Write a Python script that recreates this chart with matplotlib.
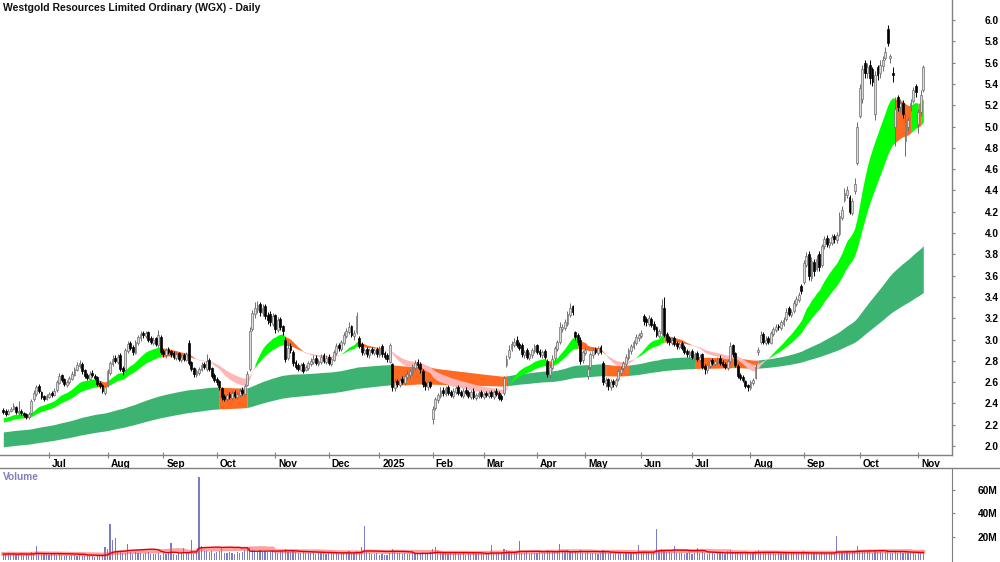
import numpy as np
import pandas as pd
import matplotlib
matplotlib.use('Agg')
import matplotlib.pyplot as plt
from matplotlib.transforms import ScaledTranslation
from matplotlib.lines import Line2D

plt.rcParams['font.family'] = ['Liberation Sans', 'DejaVu Sans']
plt.rcParams['font.weight'] = 'bold'

# ASX trading calendar for the window shown
asx_holidays = ['2024-06-10', '2024-12-25', '2024-12-26', '2025-01-01', '2025-01-27',
                '2025-04-18', '2025-04-21', '2025-04-25', '2025-06-09']
start_date = '2024-06-04'

# daily prices (AUD), 10 bars per row
opens = [
    2.34, 2.33, 2.30, 2.33, 2.35, 2.37, 2.31, 2.33, 2.31, 2.30,
    2.27, 2.31, 2.44, 2.49, 2.56, 2.51, 2.47, 2.44, 2.46, 2.50,
    2.48, 2.53, 2.59, 2.67, 2.63, 2.57, 2.60, 2.63, 2.67, 2.71,
    2.75, 2.77, 2.71, 2.67, 2.63, 2.69, 2.66, 2.65, 2.59, 2.57,
    2.50, 2.56, 2.69, 2.77, 2.83, 2.79, 2.85, 2.73, 2.71, 2.89,
    2.97, 2.93, 2.87, 2.97, 3.01, 3.06, 3.03, 3.07, 3.01, 2.97,
    3.01, 2.95, 3.02, 2.89, 2.85, 2.91, 2.89, 2.87, 2.83, 2.87,
    2.81, 2.85, 2.81, 2.97, 2.79, 2.73, 2.67, 2.69, 2.71, 2.77,
    2.72, 2.81, 2.73, 2.67, 2.63, 2.61, 2.54, 2.47, 2.44, 2.49,
    2.45, 2.51, 2.46, 2.48, 2.53, 2.49, 2.57, 2.72, 3.10, 3.24,
    3.28, 3.33, 3.25, 3.31, 3.23, 3.24, 3.15, 3.23, 3.09, 3.19,
    3.13, 3.00, 2.83, 2.94, 2.88, 2.79, 2.76, 2.71, 2.77, 2.71,
    2.73, 2.77, 2.79, 2.83, 2.77, 2.79, 2.85, 2.79, 2.84, 2.77,
    2.81, 2.87, 2.95, 2.91, 2.97, 3.03, 3.07, 3.13, 3.03, 3.07,
    3.01, 2.96, 2.87, 2.91, 2.85, 2.91, 2.87, 2.91, 2.85, 2.94,
    2.87, 2.85, 2.79, 2.77, 2.54, 2.61, 2.57, 2.63, 2.59, 2.65,
    2.67, 2.69, 2.73, 2.79, 2.77, 2.70, 2.59, 2.55, 2.60, 2.25,
    2.36, 2.43, 2.47, 2.53, 2.49, 2.55, 2.51, 2.47, 2.51, 2.55,
    2.51, 2.47, 2.53, 2.51, 2.46, 2.52, 2.45, 2.47, 2.51, 2.46,
    2.50, 2.47, 2.51, 2.46, 2.52, 2.50, 2.47, 2.50, 2.76, 2.84,
    2.91, 2.95, 3.00, 2.96, 2.95, 2.85, 2.90, 2.83, 2.85, 2.89,
    2.95, 2.89, 2.85, 2.89, 2.80, 2.67, 2.73, 2.83, 2.91, 2.98,
    3.10, 3.11, 3.15, 3.23, 3.31, 3.07, 3.04, 3.00, 2.81, 2.87,
    2.66, 2.74, 2.85, 2.91, 2.87, 2.93, 2.78, 2.59, 2.63, 2.55,
    2.61, 2.57, 2.63, 2.69, 2.73, 2.77, 2.83, 2.89, 2.93, 2.97,
    3.01, 3.03, 3.22, 3.19, 3.15, 3.19, 3.15, 3.12, 3.03, 3.06,
    3.30, 3.05, 3.01, 2.97, 3.01, 2.97, 2.93, 2.97, 2.93, 2.89,
    2.85, 2.89, 2.83, 2.87, 2.81, 2.86, 2.75, 2.71, 2.75, 2.81,
    2.77, 2.79, 2.83, 2.79, 2.77, 2.73, 2.80, 2.95, 2.87, 2.75,
    2.67, 2.65, 2.61, 2.57, 2.54, 2.59, 2.64, 2.88, 2.98, 3.05,
    2.97, 3.01, 2.97, 3.05, 3.09, 3.13, 3.11, 3.15, 3.19, 3.30,
    3.23, 3.27, 3.33, 3.37, 3.50, 3.54, 3.70, 3.80, 3.58, 3.73,
    3.66, 3.80, 3.70, 3.88, 3.95, 3.89, 3.91, 3.97, 3.93, 3.99,
    4.14, 4.31, 4.36, 4.34, 4.19, 4.39, 4.66, 5.10, 5.26, 5.60,
    5.50, 5.58, 5.54, 5.12, 5.56, 5.50, 5.57, 5.64, 5.92, 5.64,
    5.50, 5.00, 5.28, 5.18, 5.22, 4.86, 5.00, 5.18, 5.24, 5.38,
    5.02, 5.14, 5.34,
]
highs = [
    2.36, 2.35, 2.35, 2.37, 2.40, 2.38, 2.42, 2.35, 2.32, 2.31,
    2.32, 2.44, 2.53, 2.57, 2.58, 2.52, 2.48, 2.49, 2.51, 2.52,
    2.54, 2.62, 2.69, 2.68, 2.64, 2.62, 2.66, 2.70, 2.74, 2.79,
    2.81, 2.79, 2.72, 2.69, 2.70, 2.71, 2.68, 2.66, 2.61, 2.58,
    2.57, 2.72, 2.80, 2.85, 2.85, 2.86, 2.87, 2.75, 2.92, 2.99,
    2.99, 2.95, 3.00, 3.04, 3.08, 3.08, 3.08, 3.08, 3.03, 3.02,
    3.02, 3.09, 3.04, 2.91, 2.92, 2.93, 2.90, 2.89, 2.88, 2.88,
    2.86, 2.87, 2.88, 3.00, 2.80, 2.74, 2.72, 2.74, 2.79, 2.79,
    2.86, 2.83, 2.74, 2.69, 2.65, 2.62, 2.55, 2.49, 2.50, 2.51,
    2.52, 2.53, 2.51, 2.54, 2.55, 2.58, 2.70, 3.12, 3.28, 3.35,
    3.36, 3.35, 3.33, 3.33, 3.26, 3.27, 3.25, 3.24, 3.21, 3.21,
    3.14, 3.02, 2.98, 2.97, 2.90, 2.81, 2.78, 2.78, 2.79, 2.76,
    2.80, 2.83, 2.85, 2.85, 2.82, 2.86, 2.87, 2.85, 2.86, 2.84,
    2.90, 2.97, 2.97, 3.00, 3.07, 3.11, 3.16, 3.14, 3.09, 3.26,
    3.03, 2.98, 2.92, 2.93, 2.92, 2.93, 2.92, 2.93, 2.94, 2.96,
    2.89, 2.87, 2.97, 2.78, 2.63, 2.63, 2.64, 2.66, 2.68, 2.71,
    2.72, 2.77, 2.81, 2.82, 2.79, 2.72, 2.61, 2.62, 2.61, 2.38,
    2.46, 2.50, 2.55, 2.55, 2.56, 2.57, 2.53, 2.54, 2.56, 2.57,
    2.53, 2.54, 2.55, 2.53, 2.53, 2.54, 2.50, 2.52, 2.53, 2.51,
    2.52, 2.52, 2.53, 2.53, 2.54, 2.52, 2.49, 2.66, 2.85, 2.95,
    2.99, 3.01, 3.03, 2.98, 2.97, 2.90, 2.92, 2.88, 2.92, 2.96,
    2.96, 2.91, 2.90, 2.91, 2.82, 2.77, 2.85, 2.94, 3.00, 3.16,
    3.15, 3.19, 3.27, 3.34, 3.32, 3.08, 3.06, 3.02, 2.90, 2.93,
    2.75, 2.88, 2.93, 2.93, 2.94, 2.95, 2.80, 2.65, 2.64, 2.63,
    2.63, 2.64, 2.72, 2.75, 2.80, 2.86, 2.92, 2.96, 3.00, 3.05,
    3.06, 3.09, 3.24, 3.21, 3.23, 3.21, 3.17, 3.13, 3.10, 3.38,
    3.40, 3.07, 3.03, 3.02, 3.03, 2.99, 2.98, 2.99, 2.95, 2.91,
    2.90, 2.91, 2.88, 2.89, 2.86, 2.87, 2.77, 2.78, 2.82, 2.83,
    2.82, 2.84, 2.85, 2.81, 2.79, 2.82, 2.98, 2.96, 2.88, 2.77,
    2.69, 2.67, 2.62, 2.58, 2.62, 2.64, 2.77, 2.93, 3.08, 3.07,
    3.03, 3.03, 3.08, 3.12, 3.15, 3.15, 3.18, 3.21, 3.30, 3.31,
    3.29, 3.37, 3.41, 3.45, 3.52, 3.75, 3.82, 3.83, 3.77, 3.76,
    3.79, 3.83, 3.90, 3.97, 3.98, 3.95, 3.99, 3.99, 4.01, 4.20,
    4.25, 4.42, 4.44, 4.36, 4.33, 4.52, 5.04, 5.40, 5.58, 5.62,
    5.60, 5.62, 5.56, 5.52, 5.58, 5.62, 5.66, 5.75, 5.95, 5.68,
    5.56, 5.28, 5.30, 5.26, 5.25, 5.12, 5.09, 5.26, 5.37, 5.40,
    5.16, 5.34, 5.58,
]
lows = [
    2.30, 2.28, 2.29, 2.32, 2.34, 2.30, 2.29, 2.29, 2.27, 2.25,
    2.25, 2.30, 2.42, 2.47, 2.50, 2.44, 2.42, 2.43, 2.45, 2.46,
    2.47, 2.51, 2.58, 2.60, 2.56, 2.55, 2.58, 2.62, 2.66, 2.70,
    2.73, 2.68, 2.64, 2.62, 2.62, 2.65, 2.62, 2.56, 2.54, 2.50,
    2.48, 2.55, 2.67, 2.75, 2.78, 2.77, 2.70, 2.67, 2.70, 2.87,
    2.90, 2.85, 2.86, 2.95, 2.99, 3.01, 3.01, 2.98, 2.96, 2.95,
    2.94, 2.93, 2.86, 2.84, 2.83, 2.86, 2.84, 2.82, 2.81, 2.80,
    2.79, 2.80, 2.80, 2.76, 2.70, 2.65, 2.65, 2.67, 2.70, 2.72,
    2.70, 2.70, 2.64, 2.60, 2.57, 2.53, 2.43, 2.42, 2.42, 2.44,
    2.43, 2.45, 2.44, 2.46, 2.48, 2.48, 2.56, 2.70, 3.08, 3.20,
    3.25, 3.22, 3.22, 3.19, 3.15, 3.13, 3.13, 3.06, 3.07, 3.09,
    3.04, 2.79, 2.81, 2.87, 2.75, 2.72, 2.70, 2.70, 2.69, 2.70,
    2.71, 2.75, 2.77, 2.76, 2.75, 2.77, 2.78, 2.77, 2.76, 2.75,
    2.80, 2.85, 2.89, 2.89, 2.95, 3.01, 3.05, 3.02, 3.00, 3.05,
    2.92, 2.85, 2.85, 2.84, 2.83, 2.86, 2.85, 2.84, 2.84, 2.84,
    2.82, 2.79, 2.78, 2.52, 2.52, 2.55, 2.55, 2.58, 2.57, 2.63,
    2.64, 2.67, 2.71, 2.73, 2.69, 2.55, 2.53, 2.53, 2.54, 2.21,
    2.34, 2.40, 2.45, 2.47, 2.47, 2.48, 2.46, 2.45, 2.49, 2.48,
    2.46, 2.45, 2.48, 2.45, 2.44, 2.44, 2.43, 2.45, 2.45, 2.44,
    2.46, 2.45, 2.45, 2.44, 2.47, 2.43, 2.42, 2.48, 2.74, 2.82,
    2.89, 2.93, 2.93, 2.90, 2.84, 2.83, 2.82, 2.81, 2.83, 2.87,
    2.86, 2.84, 2.83, 2.82, 2.65, 2.64, 2.71, 2.81, 2.89, 2.96,
    3.07, 3.09, 3.13, 3.21, 3.23, 3.00, 2.95, 2.77, 2.78, 2.85,
    2.63, 2.72, 2.83, 2.86, 2.85, 2.86, 2.57, 2.55, 2.53, 2.53,
    2.55, 2.55, 2.61, 2.67, 2.71, 2.75, 2.81, 2.86, 2.91, 2.95,
    2.99, 3.01, 3.14, 3.13, 3.13, 3.12, 3.08, 3.02, 3.01, 3.04,
    3.02, 2.97, 2.95, 2.95, 2.94, 2.91, 2.91, 2.90, 2.86, 2.84,
    2.83, 2.82, 2.81, 2.80, 2.79, 2.72, 2.68, 2.69, 2.73, 2.76,
    2.75, 2.77, 2.76, 2.74, 2.72, 2.71, 2.78, 2.84, 2.74, 2.64,
    2.62, 2.60, 2.54, 2.52, 2.53, 2.57, 2.63, 2.85, 2.96, 2.96,
    2.95, 2.96, 2.96, 3.03, 3.07, 3.09, 3.09, 3.13, 3.17, 3.22,
    3.21, 3.25, 3.31, 3.35, 3.43, 3.52, 3.68, 3.56, 3.55, 3.60,
    3.64, 3.64, 3.68, 3.85, 3.87, 3.86, 3.89, 3.91, 3.91, 3.97,
    4.12, 4.29, 4.33, 4.18, 4.17, 4.37, 4.64, 5.08, 5.22, 5.46,
    5.46, 5.40, 5.38, 5.06, 5.44, 5.46, 5.52, 5.62, 5.76, 5.60,
    5.42, 4.82, 5.15, 5.14, 5.08, 4.72, 4.96, 5.15, 5.22, 5.28,
    4.94, 5.10, 5.32,
]
closes = [
    2.32, 2.30, 2.33, 2.35, 2.38, 2.32, 2.33, 2.31, 2.29, 2.27,
    2.30, 2.42, 2.50, 2.55, 2.52, 2.46, 2.44, 2.47, 2.49, 2.48,
    2.52, 2.60, 2.66, 2.62, 2.58, 2.60, 2.64, 2.68, 2.72, 2.76,
    2.78, 2.70, 2.66, 2.64, 2.68, 2.67, 2.64, 2.58, 2.56, 2.52,
    2.55, 2.70, 2.78, 2.82, 2.80, 2.84, 2.72, 2.70, 2.90, 2.96,
    2.92, 2.88, 2.98, 3.02, 3.05, 3.04, 3.06, 3.00, 2.98, 3.00,
    2.96, 3.04, 2.88, 2.86, 2.90, 2.88, 2.86, 2.84, 2.86, 2.82,
    2.84, 2.82, 2.86, 2.78, 2.72, 2.68, 2.70, 2.72, 2.76, 2.74,
    2.80, 2.72, 2.66, 2.62, 2.60, 2.55, 2.46, 2.44, 2.48, 2.46,
    2.50, 2.47, 2.49, 2.52, 2.50, 2.56, 2.68, 3.08, 3.25, 3.30,
    3.32, 3.26, 3.30, 3.22, 3.18, 3.16, 3.22, 3.10, 3.18, 3.12,
    3.08, 2.82, 2.92, 2.90, 2.78, 2.74, 2.72, 2.76, 2.70, 2.74,
    2.78, 2.80, 2.82, 2.78, 2.80, 2.84, 2.80, 2.83, 2.78, 2.82,
    2.88, 2.94, 2.92, 2.98, 3.04, 3.08, 3.12, 3.04, 3.06, 3.22,
    2.94, 2.88, 2.90, 2.86, 2.90, 2.88, 2.90, 2.86, 2.92, 2.86,
    2.84, 2.82, 2.95, 2.55, 2.60, 2.58, 2.62, 2.60, 2.66, 2.68,
    2.70, 2.74, 2.78, 2.76, 2.72, 2.58, 2.56, 2.60, 2.56, 2.35,
    2.44, 2.48, 2.52, 2.50, 2.54, 2.50, 2.48, 2.52, 2.54, 2.50,
    2.48, 2.52, 2.50, 2.47, 2.51, 2.46, 2.48, 2.50, 2.47, 2.49,
    2.48, 2.50, 2.47, 2.51, 2.49, 2.45, 2.44, 2.64, 2.82, 2.90,
    2.96, 2.98, 2.95, 2.92, 2.86, 2.88, 2.84, 2.86, 2.90, 2.94,
    2.88, 2.86, 2.88, 2.84, 2.68, 2.74, 2.82, 2.92, 2.98, 3.12,
    3.12, 3.16, 3.24, 3.30, 3.26, 3.02, 2.98, 2.80, 2.88, 2.90,
    2.72, 2.86, 2.90, 2.88, 2.92, 2.88, 2.60, 2.62, 2.56, 2.60,
    2.58, 2.62, 2.70, 2.72, 2.78, 2.84, 2.90, 2.94, 2.98, 3.02,
    3.04, 3.06, 3.17, 3.16, 3.20, 3.14, 3.10, 3.04, 3.08, 3.32,
    3.04, 3.00, 2.98, 3.00, 2.96, 2.94, 2.96, 2.92, 2.88, 2.86,
    2.88, 2.84, 2.86, 2.82, 2.84, 2.74, 2.72, 2.76, 2.80, 2.78,
    2.80, 2.82, 2.78, 2.76, 2.74, 2.80, 2.94, 2.86, 2.76, 2.66,
    2.64, 2.62, 2.56, 2.55, 2.60, 2.62, 2.74, 2.90, 3.04, 2.98,
    3.00, 2.98, 3.06, 3.10, 3.12, 3.12, 3.16, 3.18, 3.26, 3.24,
    3.26, 3.34, 3.38, 3.42, 3.46, 3.72, 3.78, 3.60, 3.74, 3.64,
    3.76, 3.68, 3.88, 3.94, 3.90, 3.92, 3.96, 3.94, 3.98, 4.16,
    4.22, 4.38, 4.40, 4.20, 4.30, 4.46, 5.00, 5.36, 5.54, 5.50,
    5.56, 5.46, 5.42, 5.48, 5.48, 5.58, 5.62, 5.70, 5.78, 5.66,
    5.48, 5.16, 5.18, 5.22, 5.12, 5.04, 5.06, 5.22, 5.34, 5.32,
    5.14, 5.30, 5.56,
]
# daily volume in millions of shares
volume_m = [
    5.2, 4.8, 6.1, 4.5, 5.6, 4.2, 5.0, 6.3, 4.4, 5.1,
    4.6, 6.8, 5.3, 12.0, 5.5, 4.1, 4.9, 5.7, 4.3, 5.0,
    6.2, 4.7, 5.4, 4.0, 3.8, 4.4, 3.6, 4.2, 3.9, 3.5,
    4.1, 3.4, 3.8, 3.2, 3.7, 3.3, 2.9, 3.6, 3.1, 3.4,
    11.0, 9.5, 31.0, 17.0, 19.0, 6.5, 8.0, 5.9, 6.4, 14.0,
    6.8, 5.2, 7.1, 5.6, 6.3, 4.9, 5.8, 6.6, 5.1, 4.8,
    5.5, 6.1, 4.7, 5.9, 5.2, 6.4, 15.0, 5.3, 4.6, 5.8,
    6.2, 10.0, 5.7, 6.9, 17.0, 5.4, 7.2, 71.0, 12.0, 7.5,
    8.1, 6.6, 7.4, 5.9, 6.8, 7.7, 10.0, 6.3, 5.8, 7.0,
    6.1, 5.5, 6.7, 5.9, 7.3, 8.8, 9.6, 11.5, 9.0, 8.4,
    7.9, 8.6, 7.2, 8.1, 6.9, 7.6, 8.3, 7.0, 6.4, 7.8,
    6.6, 9.2, 7.1, 6.5, 7.4, 6.8, 5.9, 6.2, 7.0, 5.7,
    6.3, 5.8, 6.9, 5.4, 6.0, 5.6, 6.7, 5.2, 5.9, 6.4,
    5.8, 6.5, 5.1, 6.2, 7.0, 6.6, 7.4, 5.9, 6.3, 8.0,
    6.9, 11.0, 29.0, 7.2, 6.0, 5.4, 4.8, 5.6, 4.3, 5.0,
    4.4, 3.9, 6.2, 9.5, 6.8, 5.7, 6.1, 5.2, 5.9, 4.8,
    5.3, 6.0, 5.5, 4.9, 5.8, 7.2, 6.4, 5.1, 6.6, 9.8,
    11.0, 7.4, 6.2, 5.6, 6.8, 5.3, 5.9, 4.8, 6.1, 5.4,
    5.0, 6.3, 4.7, 5.6, 5.2, 6.0, 4.9, 5.5, 6.4, 5.1,
    5.8, 6.2, 13.0, 5.4, 6.0, 5.7, 6.9, 9.8, 8.6, 7.4,
    7.0, 6.5, 7.8, 16.0, 6.2, 5.9, 7.1, 5.5, 6.4, 6.0,
    5.6, 6.8, 5.3, 6.1, 8.2, 7.0, 6.5, 7.5, 6.8, 14.0,
    7.6, 6.9, 8.4, 7.2, 6.6, 7.9, 6.3, 8.8, 6.0, 5.8,
    7.1, 6.4, 5.7, 6.2, 5.5, 6.0, 8.5, 6.8, 5.9, 6.3,
    5.4, 6.1, 5.8, 6.6, 5.2, 6.9, 5.7, 6.2, 7.3, 6.0,
    13.0, 6.7, 7.5, 6.1, 6.9, 5.8, 7.2, 27.0, 8.9, 9.6,
    8.3, 6.5, 7.0, 5.9, 12.0, 6.4, 5.6, 6.2, 5.3, 5.9,
    6.6, 5.5, 6.1, 10.0, 5.7, 6.8, 6.0, 5.4, 6.3, 5.8,
    5.2, 6.0, 5.6, 6.4, 5.1, 7.4, 8.2, 6.9, 6.2, 7.0,
    5.8, 6.3, 7.1, 6.0, 5.5, 6.7, 7.8, 8.4, 6.9, 6.1,
    5.7, 6.4, 5.9, 6.6, 5.3, 6.0, 5.6, 6.3, 5.9, 5.4,
    6.2, 5.8, 6.5, 5.5, 6.1, 7.6, 6.8, 5.9, 6.3, 5.6,
    6.0, 5.4, 6.7, 5.8, 5.2, 6.1, 5.7, 6.4, 21.0, 6.9,
    7.2, 6.5, 7.8, 6.1, 6.9, 7.4, 12.0, 9.0, 8.1, 7.3,
    6.6, 7.9, 6.2, 7.5, 6.8, 7.1, 6.0, 6.7, 8.2, 6.4,
    5.8, 7.6, 6.3, 6.9, 5.7, 7.2, 6.1, 5.9, 6.6, 5.5,
    6.2, 5.8, 6.4,
]

# moving-average ribbons: spans and their values at the left edge of the chart
short_spans = (18, 33)
short_start = (2.26, 2.22)
long_spans = (140, 250)
long_start = (2.13, 1.99)

price_ticks = [2.0, 2.2, 2.4, 2.6, 2.8, 3.0, 3.2, 3.4, 3.6, 3.8, 4.0, 4.2, 4.4, 4.6, 4.8,
               5.0, 5.2, 5.4, 5.6, 5.8, 6.0]
volume_ticks = [20, 40, 60]

n = len(closes)
assert len(opens) == len(highs) == len(lows) == len(volume_m) == n

dates = pd.date_range(start_date, periods=n,
                      freq=pd.offsets.CustomBusinessDay(holidays=asx_holidays))
o = np.array(opens)
h = np.array(highs)
l = np.array(lows)
c = np.array(closes)
vol = np.array(volume_m)
idx = np.arange(n)


def ema(vals, span, start):
    a = 2.0 / (span + 1)
    out = np.empty(len(vals))
    e = start
    for k, v in enumerate(vals):
        e += a * (v - e)
        out[k] = e
    return out


LIME = '#00FF00'
SEA = '#3CB371'
ORANGE = '#FF6A22'
PINK = '#FFB6B6'

fast = ema(c, short_spans[0], short_start[0])
slow = ema(c, short_spans[1], short_start[1])
lfast = ema(c, long_spans[0], long_start[0])
lslow = ema(c, long_spans[1], long_start[1])

rising = np.diff(fast, prepend=fast[0]) >= 0
bearish = fast < slow
short_col = np.where(bearish, PINK, np.where(rising, LIME, ORANGE))
# long ribbon turns orange while the short ribbon is bearish and price trades into it
long_col = np.where(bearish & (l < np.maximum(lfast, lslow)), ORANGE, SEA)


def fill_segments(ax, lo, hi, cols, z):
    s = 0
    for k in range(1, n + 1):
        if k == n or cols[k] != cols[s]:
            e = min(k, n - 1)
            ax.fill_between(idx[s:e + 1], lo[s:e + 1], hi[s:e + 1],
                            color=cols[s], lw=0, zorder=z)
            s = k


fig = plt.figure(figsize=(10, 5.62), dpi=100)
ax = fig.add_axes([0, 107 / 562, 0.952, 455 / 562])
axv = fig.add_axes([0, 0, 0.952, 94 / 562])

# ribbons
fill_segments(ax, np.minimum(lfast, lslow), np.maximum(lfast, lslow), long_col, 1)
fill_segments(ax, np.minimum(fast, slow), np.maximum(fast, slow), short_col, 2)

# candles
up = c >= o
body_lo = np.minimum(o, c)
body_h = np.maximum(np.abs(c - o), 0.006)
ax.vlines(idx[up], l[up], h[up], colors='#6E6E6E', lw=0.7, zorder=3)
ax.vlines(idx[~up], l[~up], h[~up], colors='black', lw=0.7, zorder=3)
ax.bar(idx[up], body_h[up], bottom=body_lo[up], width=0.72, color='#DADADA',
       edgecolor='#6E6E6E', linewidth=0.5, zorder=4)
ax.bar(idx[~up], body_h[~up], bottom=body_lo[~up], width=0.72, color='black',
       edgecolor='black', linewidth=0.5, zorder=4)

xmin, xmax = -1.3, 373.3
ax.set_xlim(xmin, xmax)
ax.set_ylim(1.9155, 6.1878)

# month ticks at first trading day of each month
month_pos = [i for i in range(1, n) if dates[i].month != dates[i - 1].month]
month_lab = ['2025' if dates[i].month == 1 else dates[i].strftime('%b') for i in month_pos]
ax.set_xticks(month_pos)
ax.set_xticklabels(month_lab)
ax.tick_params(axis='x', direction='inout', length=4, width=0.8, color='#808080',
               labelsize=7.3, pad=1)
shift = ScaledTranslation(3 / 100, 0, fig.dpi_scale_trans)
for lbl in ax.get_xticklabels():
    lbl.set_ha('left')
    lbl.set_transform(lbl.get_transform() + shift)

ax.yaxis.tick_right()
ax.set_yticks(price_ticks)
ax.set_yticklabels(['%.1f' % t for t in price_ticks])
ax.tick_params(axis='y', direction='out', length=2.5, width=0.8, color='#808080',
               labelsize=7.3, pad=21)
for lbl in ax.get_yticklabels():
    lbl.set_ha('left')

for side in ['left', 'top']:
    ax.spines[side].set_visible(False)
for side in ['right', 'bottom']:
    ax.spines[side].set_color('#808080')
    ax.spines[side].set_linewidth(1.0)

# volume panel
vol_ma_long = pd.Series(vol).rolling(30, min_periods=1).mean()
vol_ma_short = pd.Series(vol).rolling(20, min_periods=1).mean()
axv.bar(idx, vol, width=0.45, color='#7B7BCB', lw=0, zorder=2)
axv.plot(idx, vol_ma_long, color='#FF5050', lw=3.0, alpha=0.55, zorder=3)
axv.plot(idx, vol_ma_short, color='#E00000', lw=1.0, zorder=4)
axv.set_xlim(xmin, xmax)
axv.set_ylim(-1.7, 78.9)
axv.set_xticks([])
axv.yaxis.tick_right()
axv.set_yticks(volume_ticks)
axv.set_yticklabels(['%dM' % t for t in volume_ticks])
axv.tick_params(axis='y', direction='out', length=2.5, width=0.8, color='#808080',
                labelsize=7.3, pad=16)
for lbl in axv.get_yticklabels():
    lbl.set_ha('left')
for side in ['left', 'bottom']:
    axv.spines[side].set_visible(False)
axv.spines['right'].set_color('#808080')
axv.spines['top'].set_visible(False)
axv.text(0.003, 0.96, 'Volume', transform=axv.transAxes, ha='left', va='top',
         fontsize=7.3, fontweight='bold', color='#8080C0')

# separator between the price date strip and the volume panel
fig.add_artist(Line2D([0, 1], [94 / 562, 94 / 562], transform=fig.transFigure,
                      color='#808080', lw=1.0))

fig.text(0.003, 0.995, 'Westgold Resources Limited Ordinary (WGX) - Daily',
         ha='left', va='top', fontsize=7.5, fontweight='bold', color='#111111')

fig.savefig('out.png', dpi=100)
